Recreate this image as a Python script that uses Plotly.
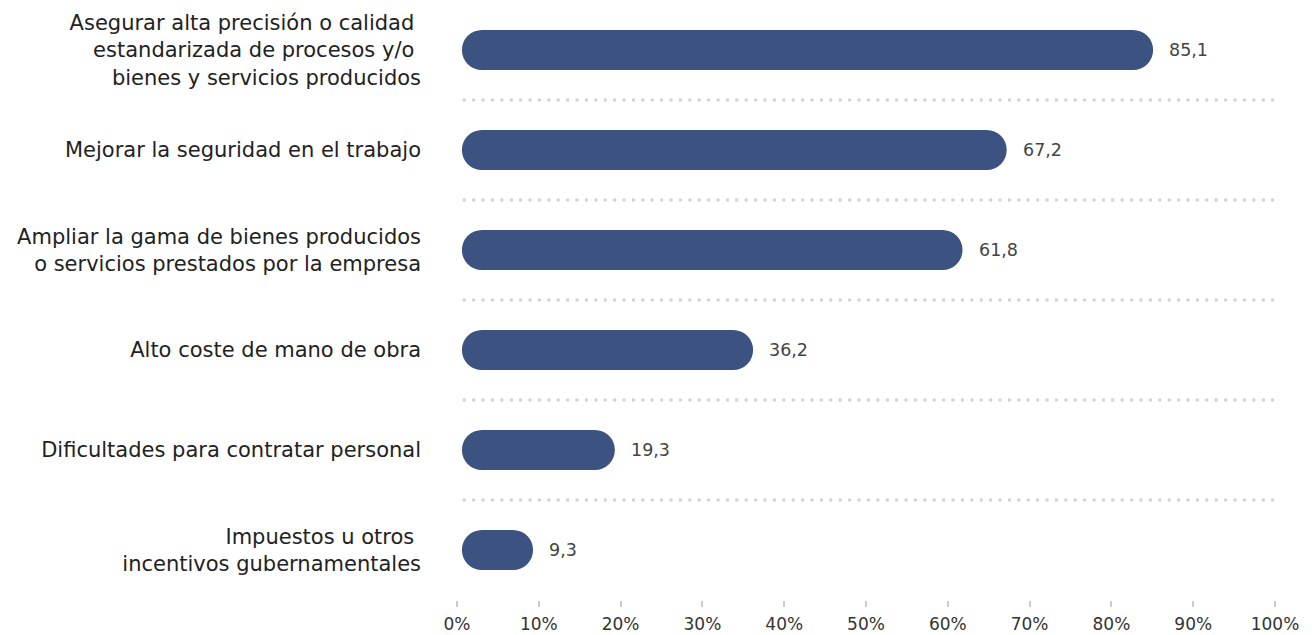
import plotly.graph_objects as go

categories = [
    "Asegurar alta precisión o calidad&nbsp;<br>estandarizada de procesos y/o&nbsp;<br>bienes y servicios producidos",
    "Mejorar la seguridad en el trabajo",
    "Ampliar la gama de bienes producidos<br>o servicios prestados por la empresa",
    "Alto coste de mano de obra",
    "Dificultades para contratar personal",
    "Impuestos u otros&nbsp;<br>incentivos gubernamentales",
]
values = [85.1, 67.2, 61.8, 36.2, 19.3, 9.3]
tick_vals = [0, 10, 20, 30, 40, 50, 60, 70, 80, 90, 100]
tick_text = [f"{t}%" for t in tick_vals]

bar_color = "#3c5382"
font_family = "DejaVu Sans, sans-serif"
bar_start = 0.6  # small visual gap between the axis origin and the rounded bar start

fig = go.Figure()
fig.add_trace(go.Bar(
    y=categories, x=[v - bar_start for v in values], base=bar_start,
    orientation="h", marker=dict(color=bar_color, line=dict(width=0)),
    width=0.4, hoverinfo="skip",
))

for c, v in zip(categories, values):
    fig.add_annotation(
        x=v, y=c, text=f"{v:.1f}".replace(".", ","),
        xanchor="left", yanchor="middle", xshift=14, showarrow=False,
        font=dict(family=font_family, size=17.5, color="#444444"),
    )

for i in range(len(categories) - 1):
    fig.add_shape(
        type="line", xref="x", yref="y",
        x0=0.7, x1=101.2, y0=i + 0.5, y1=i + 0.5,
        line=dict(color="#d2d2d2", width=3, dash="3px,6.4px"),
    )

fig.update_layout(
    width=1312, height=635,
    margin=dict(l=457, r=37, t=0, b=35),
    paper_bgcolor="white", plot_bgcolor="white",
    barcornerradius="50%",
    showlegend=False,
    font=dict(family=font_family, color="#222222"),
    xaxis=dict(
        range=[0, 100], tickmode="array", tickvals=tick_vals, ticktext=tick_text,
        showgrid=False, zeroline=False, showline=False,
        ticks="outside", ticklen=6, tickcolor="#cccccc", tickwidth=1.5,
        tickfont=dict(size=17, color="#333333"), ticklabelstandoff=3,
        fixedrange=True, automargin=False,
    ),
    yaxis=dict(
        autorange=False, range=[5.5, -0.5],
        showgrid=False, zeroline=False, showline=False,
        ticks="", ticklabelstandoff=35,
        tickfont=dict(size=21, color="#222222"),
        fixedrange=True, automargin=False,
    ),
)

fig.write_html("out.html", config={"displayModeBar": False},
               post_script="document.body.style.margin='0';")
